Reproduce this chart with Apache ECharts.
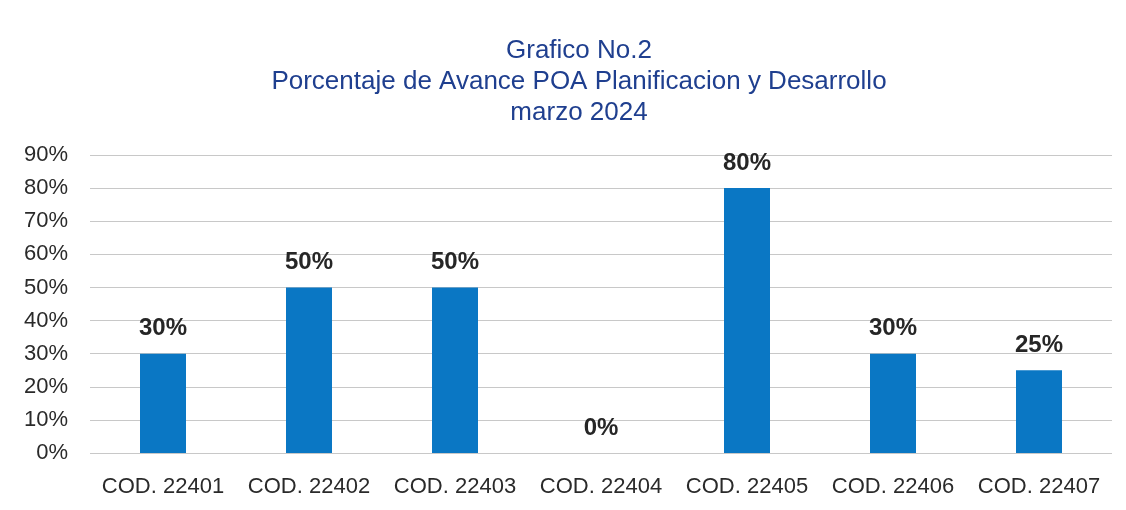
<!DOCTYPE html>
<html lang="es">
<head>
    <meta charset="UTF-8">
    <title>Grafico No.2</title>
    <script src="https://cdn.jsdelivr.net/npm/echarts@6/dist/echarts.min.js"></script>
</head>
<body style="margin:0;background:#fff;">
<div id="main" style="width:1126px;height:510px;"></div>
<script type="text/javascript">
    // datos
    var categorias = ['COD. 22401', 'COD. 22402', 'COD. 22403', 'COD. 22404', 'COD. 22405', 'COD. 22406', 'COD. 22407'];
    var avance = [30, 50, 50, 0, 80, 30, 25];
    var tituloLineas = ['Grafico No.2', 'Porcentaje de Avance POA Planificacion y Desarrollo', 'marzo 2024'];

    var myChart = echarts.init(document.getElementById('main'));
    myChart.setOption({
        textStyle: {fontFamily: 'Liberation Sans, Arial, sans-serif'},
        title: {
            text: tituloLineas.join('\n'),
            left: 574,
            textAlign: 'center',
            top: 30,
            textStyle: {
                color: '#1f3f8f',
                fontSize: 26,
                fontWeight: 'normal',
                lineHeight: 31
            }
        },
        grid: {
            left: 90,
            right: 14,
            top: 155,
            bottom: 57,
            containLabel: false
        },
        xAxis: {
            type: 'category',
            data: categorias,
            axisLine: {show: false},
            axisTick: {show: false},
            axisLabel: {
                color: '#2a2a2a',
                fontSize: 22,
                margin: 23,
                interval: 0
            }
        },
        yAxis: {
            type: 'value',
            min: 0,
            max: 90,
            interval: 10,
            axisLabel: {
                formatter: '{value}%',
                color: '#2a2a2a',
                fontSize: 22,
                margin: 22
            },
            splitLine: {lineStyle: {color: '#c8c8c8', width: 1}}
        },
        series: [{
            name: 'Avance',
            type: 'bar',
            data: avance,
            barWidth: 46,
            itemStyle: {color: '#0a77c4'},
            label: {
                show: true,
                position: 'top',
                distance: 13,
                formatter: '{c}%',
                color: '#262626',
                fontSize: 24,
                fontWeight: 'bold'
            }
        }]
    });
</script>
</body>
</html>
